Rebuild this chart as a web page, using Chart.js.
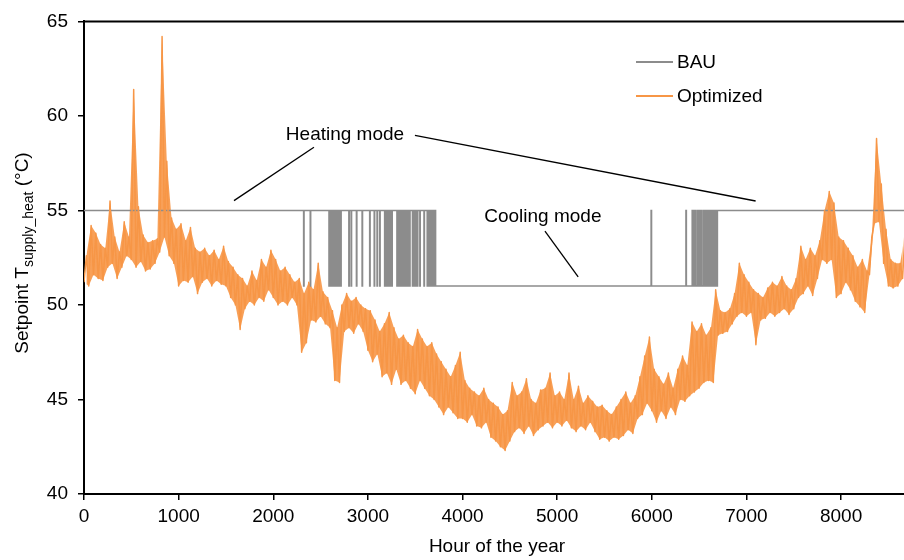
<!DOCTYPE html>
<html>
<head>
<meta charset="utf-8">
<script src="https://cdn.jsdelivr.net/npm/chart.js@4.4.1/dist/chart.umd.min.js"></script>
<style>
  body { margin: 0; background: #fff; }
  #wrap { width: 904px; height: 560px; }
</style>
</head>
<body>
<div id="wrap"><canvas id="myChart"></canvas></div>
<script>
// Optimized setpoint, every 25 h (alternating low / high of the band)
let optStep = 25;
let optimized = [
  51.2, 52.6, 51.0, 54.2, 51.6, 53.8, 51.4, 53.2, 51.3, 53.0, 52.0, 55.5, 52.2, 53.6, 51.4, 52.8, 52.0, 54.4, 52.6, 53.6,
  52.4, 61.4, 52.0, 55.2, 52.3, 53.7, 51.8, 53.3, 51.9, 53.4, 52.2, 53.5, 52.8, 64.2, 53.6, 57.6, 52.6, 54.6, 52.2, 54.0,
  51.0, 54.3, 51.3, 53.4, 51.2, 54.1, 51.5, 53.0, 50.6, 52.8, 51.2, 53.0, 51.4, 52.6, 51.0, 52.9, 51.3, 52.4, 51.1, 53.1,
  51.0, 52.3, 50.4, 52.0, 50.0, 51.6, 48.7, 51.4, 49.8, 51.0, 50.2, 51.8, 50.0, 51.3, 50.4, 52.4, 50.2, 52.0, 50.8, 52.9,
  50.4, 52.4, 50.0, 51.8, 50.2, 52.0, 50.0, 51.6, 50.4, 51.2, 50.0, 51.4, 47.5, 50.6, 48.0, 51.2, 49.2, 50.8, 49.1, 52.2,
  49.4, 50.7, 49.0, 50.4, 48.8, 49.7, 46.0, 48.8, 45.9, 50.0, 48.6, 50.6, 48.8, 50.2, 48.5, 50.4, 49.0, 50.0, 48.6, 49.8,
  47.6, 49.7, 47.0, 49.2, 47.4, 48.6, 46.2, 49.0, 46.4, 49.6, 45.8, 48.8, 46.6, 48.2, 45.8, 48.4, 46.0, 48.0, 45.6, 47.8,
  45.3, 48.7, 46.0, 48.2, 45.6, 47.8, 45.2, 48.0, 45.0, 47.4, 44.6, 47.0, 44.2, 46.6, 44.6, 46.2, 44.3, 46.8, 44.0, 47.5,
  44.0, 46.0, 43.8, 45.6, 44.2, 45.4, 43.6, 45.2, 43.5, 45.6, 43.8, 45.0, 43.0, 44.8, 42.8, 44.6, 42.5, 44.2, 42.3, 44.4,
  42.8, 45.9, 43.3, 45.2, 43.5, 45.4, 43.2, 46.1, 43.6, 45.0, 43.1, 44.8, 43.4, 45.5, 43.6, 45.6, 43.8, 46.4, 43.5, 45.2,
  43.8, 45.4, 43.6, 45.0, 43.9, 46.4, 43.5, 45.0, 43.3, 45.7, 43.6, 44.8, 43.4, 45.2, 43.8, 44.9, 43.3, 44.6, 42.9, 44.7,
  43.0, 44.4, 42.8, 44.2, 43.0, 44.6, 42.9, 45.0, 43.1, 45.4, 43.4, 44.8, 43.2, 45.2, 44.0, 46.2, 44.2, 47.3, 44.8, 48.3,
  44.4, 46.6, 43.8, 46.2, 44.4, 45.8, 44.0, 46.4, 44.6, 45.6, 44.2, 46.6, 45.0, 47.3, 44.9, 46.8, 45.2, 49.1, 45.4, 48.6,
  45.6, 49.0, 45.9, 48.4, 46.0, 48.8, 45.9, 50.8, 48.4, 49.7, 48.5, 49.6, 48.6, 49.8, 49.0, 50.6, 49.4, 52.2, 49.6, 51.6,
  49.4, 51.2, 49.6, 50.8, 47.9, 50.6, 49.2, 50.4, 49.3, 50.9, 49.6, 51.2, 49.4, 51.0, 49.6, 51.5, 49.8, 51.0, 49.5, 50.8,
  49.8, 51.4, 50.4, 53.1, 50.6, 52.4, 51.0, 53.0, 50.5, 52.6, 51.4, 53.4, 52.4, 55.0, 52.2, 56.0, 52.4, 55.4, 50.4, 53.6,
  50.6, 53.4, 51.2, 53.0, 50.8, 52.6, 50.2, 52.0, 49.9, 52.4, 49.6, 51.8, 51.6, 53.6, 54.3, 58.8, 54.4, 56.4, 52.2, 54.0,
  51.0, 52.4, 50.9, 52.2, 51.0, 52.2, 51.4, 53.8
];

// BAU setpoint: heating 55, cooling 51; the level flips at each listed hour
let bauLevels = [55, 51];
let bauToggles = [
  2320, 2326, 2390, 2396,
  2588, 2598, 2606, 2616, 2624, 2634, 2642, 2652, 2660, 2670, 2678, 2688, 2696, 2706, 2712, 2718,
  2798, 2804, 2822, 2828, 2878, 2884, 2938, 2944, 3018, 3024,
  3066, 3072, 3096, 3102, 3124, 3130,
  3176, 3186, 3194, 3204, 3212, 3222, 3230, 3240, 3248, 3258,
  3306, 3312, 3320, 3326, 3334, 3340, 3350, 3356, 3366, 3372, 3384, 3390, 3400, 3406,
  3420, 3426, 3440, 3446, 3470, 3476, 3486, 3492, 3504, 3510, 3522, 3528, 3548, 3554, 3592, 3598,
  3626, 3636, 3644, 3654, 3662, 3672, 3680, 3690, 3698, 3708,
  3716,
  5992, 5998, 6360, 6366,
  6426, 6436, 6444, 6454, 6462, 6468, 6484, 6494, 6502, 6512, 6520, 6524, 6540, 6550,
  6558, 6562, 6576, 6586, 6594, 6598, 6612, 6622, 6630, 6640, 6646, 6650, 6664, 6674, 6682, 6688,
  6694
];

let xMax = 8665;
let xTicks = [0, 1000, 2000, 3000, 4000, 5000, 6000, 7000, 8000];
let yTicks = [40, 45, 50, 55, 60, 65];

// annotations (data units)
let notes = [
  {text: "Heating mode", x: 2758, y: 59.0},
  {text: "Cooling mode", x: 4849, y: 54.68}
];
let leaders = [
  [2430, 58.34, 1585, 55.52],
  [3497, 58.97, 7097, 55.50],
  [4871, 53.90, 5222, 51.48]
];

let optData = optimized.map((v, i) => ({x: i * optStep, y: v}));
// band body: the low and the high readings of the same series
let optLow = optData.filter((p, i) => i % 2 === 0);
let optHigh = optData.filter((p, i) => i % 2 === 1);

let bauData = [{x: 0, y: bauLevels[0]}];
let lvl = 0;
bauToggles.forEach(h => {
  lvl = 1 - lvl;
  bauData.push({x: h, y: bauLevels[lvl]});
});
bauData.push({x: xMax, y: bauLevels[lvl]});

const FONT = '"Liberation Sans", Arial, sans-serif';
Chart.defaults.font.family = FONT;
Chart.defaults.font.size = 19;
Chart.defaults.color = "#000";

const decor = {
  id: "decor",
  afterDraw(chart) {
    const {ctx, chartArea: a, scales: {x, y}} = chart;
    ctx.save();
    // top frame line
    ctx.strokeStyle = "#000";
    ctx.lineWidth = 2;
    ctx.beginPath();
    ctx.moveTo(a.left - 1, a.top);
    ctx.lineTo(a.right, a.top);
    ctx.stroke();

    // leader lines
    ctx.lineWidth = 1.3;
    leaders.forEach(l => {
      ctx.beginPath();
      ctx.moveTo(x.getPixelForValue(l[0]), y.getPixelForValue(l[1]));
      ctx.lineTo(x.getPixelForValue(l[2]), y.getPixelForValue(l[3]));
      ctx.stroke();
    });

    ctx.font = "19px " + FONT;
    ctx.fillStyle = "#000";
    ctx.textAlign = "center";
    ctx.textBaseline = "middle";
    notes.forEach(n => ctx.fillText(n.text, x.getPixelForValue(n.x), y.getPixelForValue(n.y)));

    // legend
    const items = [chart.data.datasets[1], chart.data.datasets[0]];
    items.forEach((ds, i) => {
      const ly = 62 + i * 34;
      ctx.strokeStyle = ds.borderColor;
      ctx.lineWidth = 2;
      ctx.beginPath();
      ctx.moveTo(636, ly);
      ctx.lineTo(673, ly);
      ctx.stroke();
      ctx.textAlign = "left";
      ctx.fillText(ds.label, 677, ly + 1);
    });

    // x axis title
    ctx.textAlign = "center";
    ctx.textBaseline = "alphabetic";
    ctx.fillText("Hour of the year", 497, 552);

    // y axis title with subscript
    const p1 = "Setpoint T", sub = "supply_heat", p2 = " (\u00B0C)";
    ctx.font = "19px " + FONT;
    const w1 = ctx.measureText(p1).width, w3 = ctx.measureText(p2).width;
    ctx.font = "14px " + FONT;
    const w2 = ctx.measureText(sub).width;
    const total = w1 + w2 + w3;
    ctx.translate(28, 253);
    ctx.rotate(-Math.PI / 2);
    ctx.textAlign = "left";
    let cx = -total / 2;
    ctx.font = "19px " + FONT;
    ctx.fillText(p1, cx, 0);
    cx += w1;
    ctx.font = "14px " + FONT;
    ctx.fillText(sub, cx, 5);
    cx += w2;
    ctx.font = "19px " + FONT;
    ctx.fillText(p2, cx, 0);
    ctx.restore();
  }
};

let myChart = document.getElementById("myChart").getContext("2d");

new Chart(myChart, {
  type: "line",
  data: {
    datasets: [{
      label: "Optimized",
      data: optData,
      borderColor: "#F79646",
      borderWidth: 1.5,
      borderJoinStyle: "round",
      pointRadius: 0,
      tension: 0,
      order: 1
    }, {
      label: "BAU",
      data: bauData,
      borderColor: "#8c8c8c",
      borderWidth: 1.4,
      pointRadius: 0,
      stepped: true,
      order: 2
    }, {
      label: "band low",
      data: optLow,
      borderWidth: 0,
      pointRadius: 0,
      fill: false,
      order: 4
    }, {
      label: "band high",
      data: optHigh,
      borderWidth: 0,
      pointRadius: 0,
      fill: 2,
      backgroundColor: "rgba(247, 150, 70, 0.9)",
      order: 3
    }]
  },
  options: {
    responsive: true,
    maintainAspectRatio: false,
    animation: false,
    devicePixelRatio: 1,
    layout: { padding: { top: 15, right: 0, left: 0, bottom: 0 } },
    plugins: {
      legend: { display: false },
      tooltip: { enabled: false }
    },
    scales: {
      x: {
        type: "linear",
        min: 0,
        max: xMax,
        afterFit(scale) { scale.height = 66; },
        afterBuildTicks(scale) { scale.ticks = xTicks.map(v => ({value: v})); },
        border: { display: true, color: "#000", width: 2 },
        grid: { display: true, drawOnChartArea: false, drawTicks: true, tickLength: 6, color: "#000", lineWidth: 1.5 },
        ticks: { padding: 5, maxRotation: 0, autoSkip: false, font: { size: 19 }, callback: v => String(v) }
      },
      y: {
        min: 40,
        max: 65,
        afterFit(scale) { scale.width = 84; },
        afterBuildTicks(scale) { scale.ticks = yTicks.map(v => ({value: v})); },
        border: { display: true, color: "#000", width: 2 },
        grid: { display: true, drawOnChartArea: false, drawTicks: true, tickLength: 6, color: "#000", lineWidth: 1.5 },
        ticks: { padding: 10, font: { size: 19 }, callback: v => String(v) }
      }
    }
  },
  plugins: [decor]
});
</script>
</body>
</html>
